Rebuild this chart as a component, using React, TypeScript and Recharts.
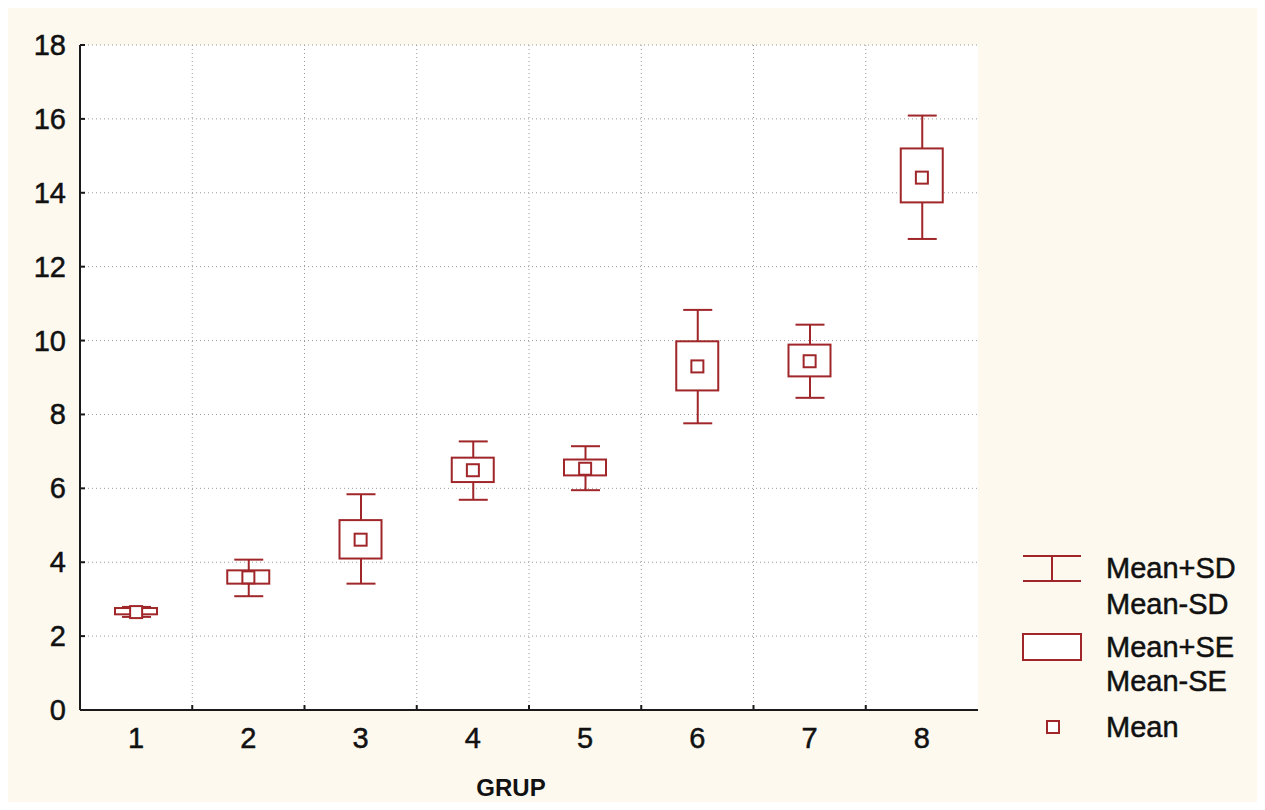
import React from 'react';
import {
  ComposedChart, Bar, Line, XAxis, YAxis, CartesianGrid, Legend, Label,
} from 'recharts';

const groups = ['1', '2', '3', '4', '5', '6', '7', '8'];
const means = [2.65, 3.59, 4.61, 6.49, 6.53, 9.3, 9.44, 14.41];
const seLow = [2.59, 3.42, 4.1, 6.17, 6.35, 8.65, 9.03, 13.74];
const seHigh = [2.76, 3.78, 5.14, 6.83, 6.78, 9.98, 9.89, 15.2];
const sdLow = [2.52, 3.08, 3.42, 5.69, 5.95, 7.76, 8.45, 12.75];
const sdHigh = [2.79, 4.07, 5.84, 7.27, 7.14, 10.83, 10.43, 16.09];
const yTicks = [0, 2, 4, 6, 8, 10, 12, 14, 16, 18];
const legendLabels = ['Mean+SD', 'Mean-SD', 'Mean+SE', 'Mean-SE', 'Mean'];
const xTitle = 'GRUP';

const data = groups.map((g, i) => ({
  group: g,
  mean: means[i],
  sd: [sdLow[i], sdHigh[i]],
  se: [seLow[i], seHigh[i]],
}));

const RED = '#a0262a';
const FRAME = '#1a1a1a';
const FONT = '"Liberation Sans", Arial, sans-serif';
const FS = 29;
const TXT = { fontSize: FS, fontFamily: FONT, fill: '#111', stroke: '#111', strokeWidth: 0.5 };

const LeftTick = (p: any) => (
  <g>
    <line x1={p.x} x2={p.x + 5} y1={p.y} y2={p.y} stroke={FRAME} strokeWidth={2} />
    <text x={p.x - 14} y={p.y} textAnchor="end" dominantBaseline="central" {...TXT}>
      {p.payload.value}
    </text>
  </g>
);
const RightTick = (p: any) => (
  <line x1={p.x} x2={p.x - 5} y1={p.y} y2={p.y} stroke={FRAME} strokeWidth={2} />
);
const half = (p: any) => (p.payload && typeof p.payload.offset === 'number' ? p.payload.offset : 0);
const TopTick = (p: any) => {
  if (p.index === 0) return <g />;
  const bx = p.x - half(p);
  return <line x1={bx} x2={bx} y1={p.y} y2={p.y + 5} stroke={FRAME} strokeWidth={2} />;
};
const CatTick = (p: any) => {
  const bx = p.x - half(p);
  return (
    <g>
      {p.index > 0 && <line x1={bx} x2={bx} y1={p.y} y2={p.y - 5} stroke={FRAME} strokeWidth={2} />}
      <text x={p.x} y={p.y + 28} textAnchor="middle" dominantBaseline="central" {...TXT}>
        {p.payload.value}
      </text>
    </g>
  );
};

const gridX = (args: any) => {
  const ax = args && args.xAxis;
  const s = ax && ax.scale;
  if (typeof s === 'function') {
    const v = groups.slice(1).map((g) => s(g));
    if (v.every((n) => typeof n === 'number' && isFinite(n))) return v;
  }
  if (s && typeof s.map === 'function') {
    const v = groups.slice(1).map((g) => s.map(g));
    if (v.every((n: any) => typeof n === 'number' && isFinite(n))) return v;
  }
  const off = args && args.offset;
  if (!off) return [];
  const band = off.width / groups.length;
  return groups.slice(1).map((_, i) => off.left + band * (i + 1));
};

const SdShape = (p: any) => {
  const { x, y, width, height } = p;
  const cx = x + width / 2;
  return (
    <g stroke={RED} strokeWidth={2} fill="none">
      <line x1={x} x2={x + width} y1={y} y2={y} />
      <line x1={x} x2={x + width} y1={y + height} y2={y + height} />
      <line x1={cx} x2={cx} y1={y} y2={y + height} />
    </g>
  );
};
const SeShape = (p: any) => (
  <rect x={p.x} y={p.y} width={p.width} height={p.height} fill="#fff" stroke={RED} strokeWidth={2} />
);
const MeanDot = (p: any) => (
  <rect key={p.index} x={p.cx - 6} y={p.cy - 6} width={12} height={12} fill="#fff" stroke={RED} strokeWidth={2} />
);

const LegendContent = () => (
  <svg width={245} height={210} style={{ display: 'block' }}>
    <g stroke={RED} strokeWidth={2} fill="none">
      <line x1={5} x2={63} y1={13} y2={13} />
      <line x1={5} x2={63} y1={38} y2={38} />
      <line x1={34} x2={34} y1={13} y2={38} />
      <rect x={5} y={91} width={58} height={26} fill="#fff" />
      <rect x={29} y={178} width={12} height={12} fill="#fff" />
    </g>
    <g {...TXT}>
      <text x={88} y={25} dominantBaseline="central">{legendLabels[0]}</text>
      <text x={88} y={61} dominantBaseline="central">{legendLabels[1]}</text>
      <text x={88} y={104} dominantBaseline="central">{legendLabels[2]}</text>
      <text x={88} y={138} dominantBaseline="central">{legendLabels[3]}</text>
      <text x={88} y={184} dominantBaseline="central">{legendLabels[4]}</text>
    </g>
  </svg>
);

const TitleLabel = (p: any) => {
  const vb = p.viewBox || {};
  return (
    <text x={vb.x + vb.width / 2 - 18} y={vb.y + 77} textAnchor="middle" dominantBaseline="central"
      fontSize={24} fontWeight="bold" fontFamily={FONT} fill="#111">
      {xTitle}
    </text>
  );
};

export default function App() {
  return (
    <div style={{ width: 1250, height: 794, background: '#fdf9ef' }}>
      <ComposedChart width={1250} height={794} data={data} margin={{ top: 37, right: 280, bottom: 0, left: 0 }}>
        <CartesianGrid xAxisId="cat" yAxisId={0} fill="#ffffff" stroke="#9a9a9a" strokeDasharray="1 3"
          verticalCoordinatesGenerator={gridX} />
        <XAxis xAxisId="cat" dataKey="group" height={92} axisLine={{ stroke: FRAME, strokeWidth: 2 }}
          tickLine={false} tickSize={0} tickMargin={0} tick={CatTick} interval={0}>
          <Label content={TitleLabel} />
        </XAxis>
        <XAxis xAxisId="cat2" dataKey="group" hide />
        <XAxis xAxisId="top" dataKey="group" orientation="top" height={0} interval={0}
          axisLine={{ stroke: FRAME, strokeWidth: 2 }} tickLine={false} tickSize={0} tickMargin={0} tick={TopTick} />
        <YAxis yAxisId={0} domain={[0, 18]} ticks={yTicks} width={72} interval={0}
          axisLine={{ stroke: FRAME, strokeWidth: 2 }} tickLine={false} tickSize={0} tickMargin={0} tick={LeftTick} />
        <YAxis yAxisId="r" orientation="right" domain={[0, 18]} ticks={yTicks} width={0} interval={0}
          axisLine={{ stroke: FRAME, strokeWidth: 2 }} tickLine={false} tickSize={0} tickMargin={0} tick={RightTick} />
        <Bar xAxisId="cat" yAxisId={0} dataKey="sd" barSize={29} shape={SdShape} isAnimationActive={false} legendType="none" />
        <Bar xAxisId="cat2" yAxisId={0} dataKey="se" barSize={42} shape={SeShape} isAnimationActive={false} legendType="none" />
        <Line xAxisId="cat" yAxisId={0} dataKey="mean" stroke="none" dot={MeanDot} activeDot={false}
          isAnimationActive={false} legendType="none" />
        <Legend layout="vertical" align="center" verticalAlign="middle"
          wrapperStyle={{ left: 1010, top: 535, width: 245, height: 210 }} content={LegendContent} />
      </ComposedChart>
    </div>
  );
}
